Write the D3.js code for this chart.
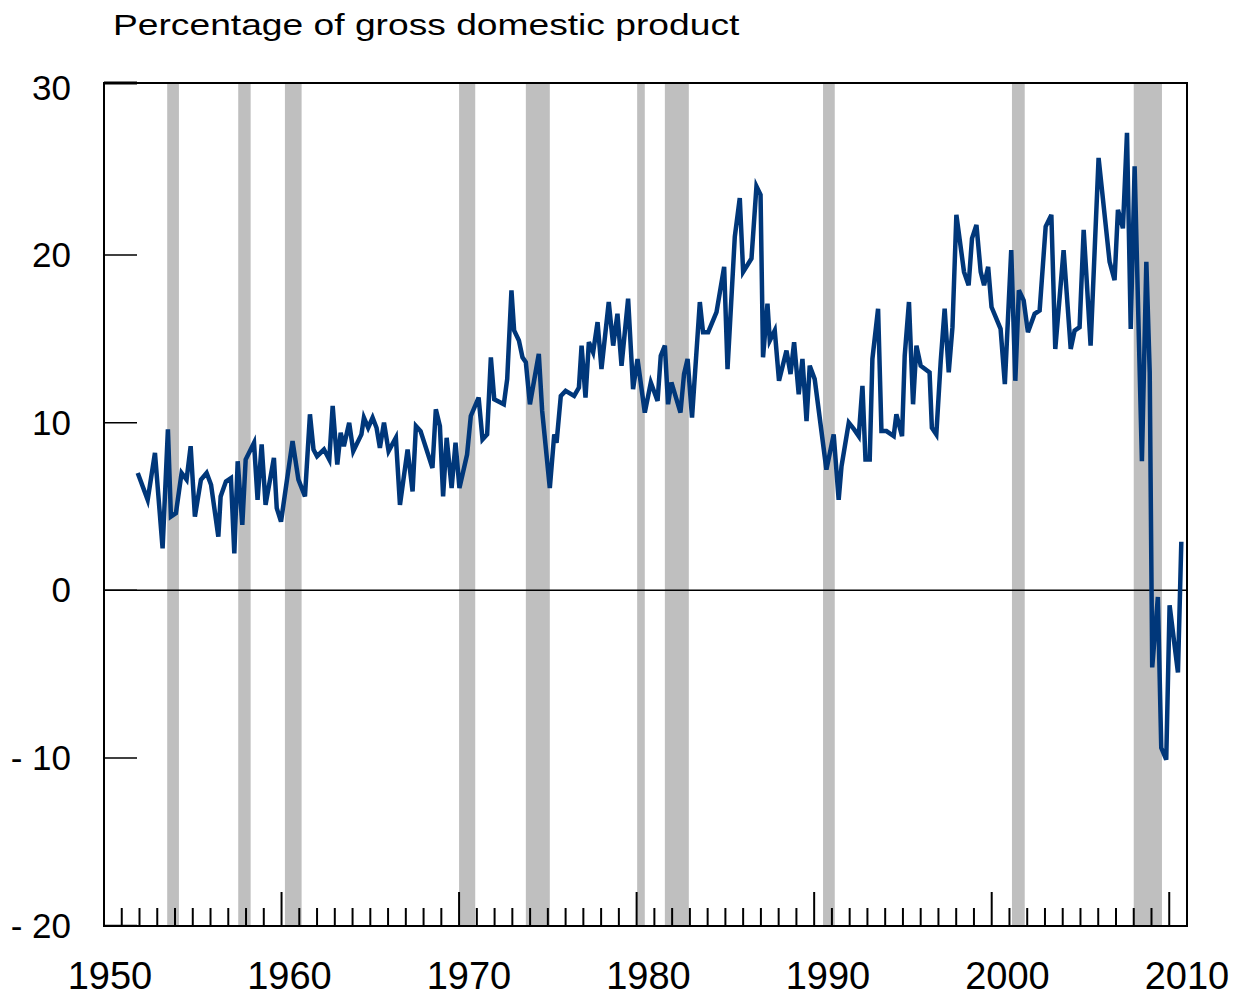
<!DOCTYPE html>
<html>
<head>
<meta charset="utf-8">
<script src="https://cdn.jsdelivr.net/npm/d3@7"></script>
<style>
  body { margin: 0; background: #fff; }
  svg { display: block; }
  text { font-family: "Liberation Sans", Arial, sans-serif; fill: #000; }
</style>
</head>
<body>
<div id="chart"></div>
<script>
// quarterly readings (decimal year) of the series, percent of GDP
const dates = [
  1951.90, 1952.46, 1952.87, 1953.30, 1953.60, 1953.77, 1954.05, 1954.37, 1954.65, 1954.88,
  1955.12, 1955.46, 1955.78, 1956.03, 1956.44, 1956.57, 1956.87, 1957.15, 1957.34, 1957.53,
  1957.79, 1957.98, 1958.45, 1958.65, 1958.88, 1959.10, 1959.57, 1959.73, 1959.97, 1960.62,
  1960.95, 1961.32, 1961.60, 1961.80, 1962.00, 1962.39, 1962.69, 1962.88, 1963.14, 1963.33,
  1963.51, 1963.81, 1964.04, 1964.50, 1964.64, 1964.88, 1965.13, 1965.35, 1965.54, 1965.77,
  1966.03, 1966.44, 1966.67, 1967.10, 1967.38, 1967.57, 1967.83, 1968.50, 1968.69, 1968.92,
  1969.10, 1969.30, 1969.58, 1969.80, 1970.02, 1970.45, 1970.66, 1971.10, 1971.32, 1971.58,
  1971.79, 1971.98, 1972.52, 1972.71, 1972.95, 1973.10, 1973.37, 1973.57, 1973.76, 1973.99,
  1974.49, 1974.68, 1975.11, 1975.36, 1975.49, 1975.73, 1976.00, 1976.48, 1976.75, 1976.90,
  1977.12, 1977.31, 1977.55, 1977.80, 1978.02, 1978.43, 1978.68, 1978.92, 1979.15, 1979.52,
  1979.80, 1980.05, 1980.46, 1980.80, 1981.18, 1981.36, 1981.59, 1981.77, 1981.96, 1982.47,
  1982.67, 1982.87, 1983.12, 1983.56, 1983.74, 1984.03, 1984.50, 1984.93, 1985.12, 1985.53,
  1985.81, 1986.00, 1986.47, 1986.75, 1986.98, 1987.12, 1987.37, 1987.50, 1987.78, 1988.02,
  1988.44, 1988.67, 1988.87, 1989.13, 1989.34, 1989.57, 1989.75, 1990.03, 1990.69, 1991.10,
  1991.38, 1991.54, 1991.95, 1992.25, 1992.51, 1992.72, 1992.89, 1993.13, 1993.28, 1993.60,
  1993.79, 1994.07, 1994.48, 1994.63, 1994.95, 1995.10, 1995.34, 1995.57, 1995.76, 1996.00,
  1996.50, 1996.63, 1996.88, 1997.13, 1997.35, 1997.58, 1997.79, 1998.01, 1998.44, 1998.70,
  1998.89, 1999.14, 1999.38, 1999.57, 1999.80, 1999.99, 2000.50, 2000.74, 2001.10, 2001.33,
  2001.53, 2001.80, 2002.04, 2002.42, 2002.70, 2003.04, 2003.36, 2003.58, 2004.05, 2004.45,
  2004.67, 2004.95, 2005.18, 2005.57, 2006.02, 2006.64, 2006.92, 2007.11, 2007.39, 2007.62,
  2007.83, 2008.05, 2008.46, 2008.71, 2008.90, 2009.04, 2009.36, 2009.55, 2009.83, 2010.02,
  2010.49, 2010.68
];
const values = [
  7.0, 5.4, 8.2, 2.5, 9.6, 4.4, 4.6, 7.0, 6.6, 8.6,
  4.4, 6.6, 7.0, 6.3, 3.2, 5.6, 6.5, 6.7, 2.2, 7.7,
  3.9, 7.8, 8.8, 5.4, 8.7, 5.1, 7.9, 4.9, 4.1, 8.9,
  6.6, 5.6, 10.5, 8.4, 8.0, 8.4, 7.8, 11.0, 7.5, 9.4,
  8.6, 10.0, 8.3, 9.3, 10.3, 9.7, 10.3, 9.7, 8.5, 10.0,
  8.3, 9.1, 5.1, 8.4, 5.9, 9.8, 9.5, 7.3, 10.8, 9.8,
  5.6, 9.1, 6.1, 8.8, 6.1, 8.1, 10.4, 11.5, 9.0, 9.3,
  13.9, 11.4, 11.1, 12.6, 17.9, 15.5, 14.9, 13.9, 13.6, 11.1,
  14.1, 10.7, 6.1, 9.3, 8.8, 11.6, 11.9, 11.6, 12.1, 14.6,
  11.5, 14.8, 14.2, 16.0, 13.2, 17.2, 14.6, 16.5, 13.4, 17.4,
  12.0, 13.8, 10.6, 12.4, 11.3, 14.0, 14.6, 11.1, 12.4, 10.6,
  12.9, 13.8, 10.3, 17.2, 15.4, 15.4, 16.6, 19.3, 13.2, 21.1,
  23.4, 19.0, 19.8, 24.1, 23.6, 13.9, 17.1, 14.9, 15.5, 12.5,
  14.3, 12.9, 14.8, 11.7, 13.8, 10.1, 13.4, 12.6, 7.2, 9.3,
  5.4, 7.4, 10.0, 9.6, 9.2, 12.2, 7.8, 7.8, 13.8, 16.8,
  9.5, 9.5, 9.2, 10.5, 9.2, 14.0, 17.2, 11.1, 14.6, 13.4,
  13.0, 9.7, 9.3, 13.7, 16.8, 13.0, 15.7, 22.4, 19.0, 18.2,
  21.0, 21.8, 19.0, 18.2, 19.3, 16.9, 15.6, 12.3, 20.3, 12.5,
  17.9, 17.3, 15.4, 16.5, 16.7, 21.7, 22.4, 14.4, 20.3, 14.4,
  15.5, 15.7, 21.5, 14.6, 25.8, 19.6, 18.5, 22.7, 21.6, 27.3,
  15.6, 25.3, 7.7, 19.6, 13.0, -4.6, -0.4, -9.4, -10.1, -0.9,
  -4.9, 2.9
];

// recession periods (start, end)
const recStart = [1953.56, 1957.56, 1960.19, 1970.00, 1973.76, 1980.03, 1981.59, 1990.50, 2001.14, 2008.00];
const recEnd   = [1954.22, 1958.26, 1961.13, 1970.91, 1975.11, 1980.46, 1982.94, 1991.16, 2001.86, 2009.59];

const yTicks = [30, 20, 10, 0, -10, -20];
const yTickLabels = ["30", "20", "10", "0", "- 10", "- 20"];
const xLabelYears = [1950, 1960, 1970, 1980, 1990, 2000, 2010];

const title = "Percentage of gross domestic product";

const width = 1235, height = 996;
const frame = {left: 104, right: 1187, top: 83, bottom: 926};

const svg = d3.select("#chart").append("svg")
    .attr("width", width)
    .attr("height", height);

const x = d3.scaleLinear().domain([1950, 2011]).range([frame.left, frame.right]);
const y = d3.scaleLinear().domain([-20, 30]).range([925.5, 87.5]);
// year labels sit a little right of their ticks
const xLab = d3.scaleLinear().domain([1950, 2010]).range([110, 1187]);

// tick marks at the ends sit on the frame itself
const tickY = d => Math.max(frame.top, Math.min(frame.bottom, d === 30 ? frame.top : y(d)));

// recession shading
svg.append("g")
    .selectAll("rect")
    .data(recStart.map((s, i) => [s, recEnd[i]]))
    .enter().append("rect")
        .attr("x", d => x(d[0]))
        .attr("y", frame.top)
        .attr("width", d => x(d[1]) - x(d[0]))
        .attr("height", frame.bottom - frame.top)
        .attr("fill", "#bfbfbf");

// frame
svg.append("rect")
    .attr("x", frame.left)
    .attr("y", frame.top)
    .attr("width", frame.right - frame.left)
    .attr("height", frame.bottom - frame.top)
    .attr("fill", "none")
    .attr("stroke", "#000")
    .attr("stroke-width", 2);

// zero line
svg.append("line")
    .attr("x1", frame.left).attr("x2", frame.right)
    .attr("y1", y(0)).attr("y2", y(0))
    .attr("stroke", "#000")
    .attr("stroke-width", 1.5);

// y ticks (inside, short)
svg.append("g")
    .selectAll("line")
    .data(yTicks)
    .enter().append("line")
        .attr("x1", frame.left).attr("x2", frame.left + 33)
        .attr("y1", d => tickY(d)).attr("y2", d => tickY(d))
        .attr("stroke", "#000")
        .attr("stroke-width", d => d === 30 ? 3 : 1.5);

svg.append("g")
    .selectAll("text")
    .data(yTicks)
    .enter().append("text")
        .attr("x", 71)
        .attr("y", d => y(d) + 12)
        .attr("text-anchor", "end")
        .style("font-size", "35px")
        .text((d, i) => yTickLabels[i]);

// x ticks: every year, longer every decade
const years = d3.range(1951, 2011);
svg.append("g")
    .selectAll("line")
    .data(years)
    .enter().append("line")
        .attr("x1", d => x(d)).attr("x2", d => x(d))
        .attr("y1", frame.bottom)
        .attr("y2", d => d % 10 === 0 ? frame.bottom - 34 : frame.bottom - 18)
        .attr("stroke", "#000")
        .attr("stroke-width", 2);

svg.append("g")
    .selectAll("text")
    .data(xLabelYears)
    .enter().append("text")
        .attr("x", d => xLab(d))
        .attr("y", 989)
        .attr("text-anchor", "middle")
        .style("font-size", "38px")
        .text(d => d);

// the series
const line = d3.line()
    .x((d, i) => x(dates[i]))
    .y(d => y(d));

svg.append("path")
    .datum(values)
    .attr("d", line)
    .attr("fill", "none")
    .attr("stroke", "#00377a")
    .attr("stroke-width", 4.5)
    .attr("stroke-linejoin", "miter");

// title (wide face)
svg.append("text")
    .attr("transform", "translate(113,35) scale(1.24,1)")
    .style("font-size", "30px")
    .text(title);
</script>
</body>
</html>
